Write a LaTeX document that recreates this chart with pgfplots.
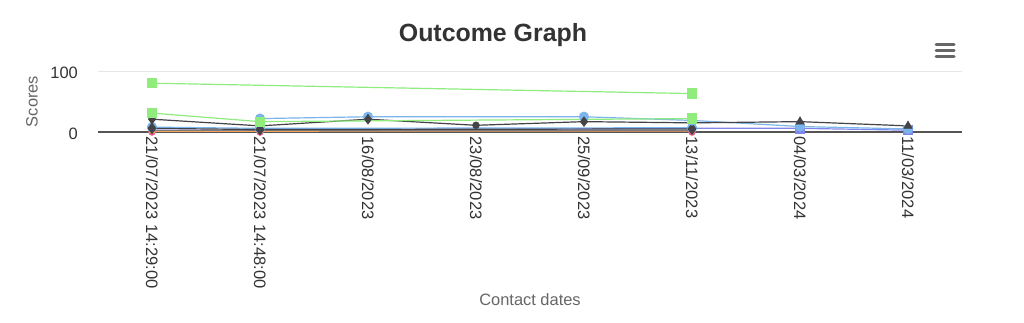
\documentclass[border=0pt]{standalone}
\usepackage{pgfplots}
\pgfplotsset{compat=1.18}
\usepackage{fontspec}
\setmainfont{Liberation Sans}
\usetikzlibrary{plotmarks}
\definecolor{hcblue}{HTML}{7CB5EC}
\definecolor{hcdark}{HTML}{434348}
\definecolor{hcgreen}{HTML}{90ED7D}
\definecolor{hcorange}{HTML}{F7A35C}
\definecolor{hcpurple}{HTML}{8085E9}
\definecolor{hcpink}{HTML}{F15C80}
\definecolor{hcyellow}{HTML}{E4D354}
\definecolor{txtdark}{HTML}{333333}
\definecolor{txtgray}{HTML}{666666}
\definecolor{gridc}{HTML}{E6E6E6}
\definecolor{axisc}{HTML}{555555}
\begin{document}
\begin{tikzpicture}[x=1bp,y=1bp]
\fill[white] (0,0) rectangle (1024,-322);
\node[font=\bfseries\fontsize{25}{29}\selectfont, text=txtdark] at (493,-35) {Outcome Graph};
\draw[txtgray, line width=3bp, line cap=round] (936,-44) -- (954,-44);
\draw[txtgray, line width=3bp, line cap=round] (936,-50) -- (954,-50);
\draw[txtgray, line width=3bp, line cap=round] (936,-56) -- (954,-56);
\begin{axis}[
  at={(98bp,-132bp)}, anchor=south west,
  scale only axis, width=864bp, height=61bp,
  xmin=-0.5, xmax=7.5, ymin=0, ymax=100,
  clip=false,
  axis lines*=left,
  x axis line style={draw=axisc, line width=1.2bp},
  y axis line style={draw=none},
  ytick={0,100}, ymajorgrids, grid style={draw=gridc, line width=0.8bp},
  major tick length=0pt,
  xtick={0,1,2,3,4,5,6,7},
  xticklabels={{21/07/2023 14:29:00},{21/07/2023 14:48:00},{16/08/2023},{23/08/2023},{25/09/2023},{13/11/2023},{04/03/2024},{11/03/2024}},
  /pgf/number format/assume math mode=true,
  xticklabel style={rotate=-90, anchor=west, inner sep=0pt, inner xsep=3.5bp, xshift=1bp, font=\fontsize{16.6}{18}\selectfont, text=txtdark},
  yticklabel style={anchor=east, inner sep=0pt, xshift=-20bp, yshift=-1.5bp, font=\fontsize{16.5}{18}\selectfont, text=txtdark},
  every axis y label/.style={at={(rel axis cs:0,0.5)}, xshift=-66bp, rotate=90, anchor=center, font=\fontsize{16.5}{18}\selectfont, text=txtgray},
  every axis x label/.style={at={(rel axis cs:0.5,0)}, yshift=-168bp, anchor=center, font=\fontsize{16.5}{18}\selectfont, text=txtgray},
  ylabel={Scores}, xlabel={Contact dates},
]
% pink (markers only visible)
\addplot[only marks, mark=*, mark size=3.5bp, mark options={solid, fill=hcpink, draw=hcpink}] coordinates {(0,0) (1,0) (5,0)};
% yellow
\addplot[only marks, mark=triangle*, mark size=3bp, mark options={solid, fill=hcyellow, draw=hcyellow}] coordinates {(0,1) (1,1)};
% orange
\addplot[hcorange, line width=1.5bp, mark=none] coordinates {(0,1.5) (5,2)};
% purple line
\addplot[hcpurple, line width=1.2bp, mark=none] coordinates {(0,3) (1,3) (5,6) (6,6) (7,3)};
\addplot[only marks, mark=square*, mark size=4.5bp, mark options={solid, fill=hcpurple, draw=hcpurple}] coordinates {(6,6) (7,3)};
% blue low
\addplot[hcblue, line width=1.2bp, mark=*, mark size=4.5bp, mark options={solid, fill=hcblue}] coordinates {(0,8) (1,6) (5,7)};
% gray low
\addplot[hcdark!70, line width=1.2bp, mark=none] coordinates {(0,3) (5,3)};
% dark low
\addplot[hcdark, line width=1.2bp, mark=diamond*, mark size=5bp, mark options={solid, fill=hcdark}] coordinates {(0,6) (1,4) (5,5)};
% blue high
\addplot[hcblue, line width=1.2bp, mark=*, mark size=4.5bp, mark options={solid, fill=hcblue}] coordinates {(1,22) (2,25) (4,25) (5,19) (6,9) (7,5)};
% dark high line
\addplot[hcdark, line width=1.2bp, mark=none] coordinates {(0,21) (1,10) (2,21) (3,11) (4,17) (5,15) (6,17) (7,10)};
\addplot[only marks, mark=diamond*, mark size=5bp, mark options={solid, fill=hcdark, draw=hcdark}] coordinates {(0,21) (1,10) (2,21) (4,17)};
\addplot[only marks, mark=*, mark size=3.5bp, mark options={solid, fill=hcdark, draw=hcdark}] coordinates {(3,11)};
\addplot[only marks, mark=triangle*, mark size=5bp, mark options={solid, fill=hcdark, draw=hcdark}] coordinates {(6,17) (7,10)};
% green B
\addplot[hcgreen, line width=1.2bp, mark=square*, mark size=4.5bp, mark options={solid, fill=hcgreen}] coordinates {(0,31) (1,17) (5,22)};
% green A
\addplot[hcgreen, line width=1.2bp, mark=square*, mark size=4.5bp, mark options={solid, fill=hcgreen}] coordinates {(0,80) (5,63)};
\end{axis}
\end{tikzpicture}
\end{document}
